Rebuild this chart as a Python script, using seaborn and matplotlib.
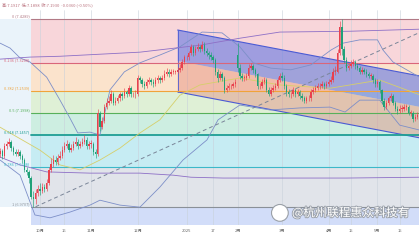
import numpy as np
import pandas as pd
import matplotlib
matplotlib.use("Agg")
import matplotlib.pyplot as plt
import matplotlib.patheffects as pe
from matplotlib.patches import Polygon, Ellipse
import seaborn as sns

# ---------------- data ----------------
O = [7.100, 7.108, 7.095, 7.120, 7.125, 7.130, 7.115, 7.105, 7.100, 7.105, 7.095, 7.085, 7.060, 7.055, 7.040, 6.995, 6.990, 7.005,
     7.015, 7.010, 7.020, 7.015, 7.030, 7.060, 7.075, 7.085, 7.080, 7.090, 7.095, 7.110, 7.120, 7.125, 7.110, 7.115, 7.125, 7.130, 7.120, 7.125, 7.130, 7.135, 7.120,
     7.125, 7.125, 7.105, 7.100, 7.200, 7.165, 7.180, 7.215, 7.225, 7.230, 7.245, 7.225, 7.230, 7.235, 7.245, 7.240, 7.250, 7.245, 7.260, 7.245, 7.245,
     7.245, 7.285, 7.280, 7.270, 7.265, 7.275, 7.280, 7.275, 7.270, 7.280, 7.285, 7.280, 7.285, 7.295, 7.300, 7.295, 7.300, 7.300, 7.300, 7.305, 7.310, 7.325,
     7.335, 7.335, 7.345, 7.360, 7.345, 7.355, 7.360, 7.355, 7.365, 7.350, 7.345, 7.340, 7.335, 7.330, 7.300, 7.285, 7.295, 7.285, 7.255, 7.260, 7.265, 7.265, 7.270,
     7.340, 7.310, 7.290, 7.285, 7.285, 7.290, 7.310, 7.315, 7.305, 7.295, 7.265, 7.265, 7.275, 7.280, 7.255, 7.245, 7.255, 7.260, 7.265, 7.280,
     7.290, 7.285, 7.265, 7.250, 7.245, 7.245, 7.255, 7.245, 7.250, 7.240, 7.235, 7.230, 7.235, 7.235, 7.250, 7.255, 7.260, 7.265, 7.265, 7.270, 7.265,
     7.270, 7.275, 7.280, 7.300, 7.300, 7.345, 7.410, 7.355, 7.330, 7.310, 7.315, 7.320, 7.325, 7.315, 7.310, 7.300, 7.305, 7.300, 7.295, 7.290, 7.290, 7.280,
     7.270, 7.275, 7.255, 7.230, 7.215, 7.225, 7.235, 7.240, 7.225, 7.210, 7.205, 7.210, 7.210, 7.215, 7.215, 7.200, 7.200, 7.185, 7.190, 7.195, 7.205, 7.195]
H = [7.115, 7.112, 7.126, 7.132, 7.138, 7.134, 7.120, 7.112, 7.113, 7.110, 7.100, 7.090, 7.068, 7.060, 7.045, 7.010, 7.015, 7.025,
     7.030, 7.028, 7.026, 7.038, 7.068, 7.090, 7.098, 7.094, 7.100, 7.108, 7.118, 7.128, 7.135, 7.130, 7.124, 7.132, 7.140, 7.136, 7.132, 7.138, 7.145, 7.140, 7.132,
     7.135, 7.130, 7.112, 7.210, 7.205, 7.190, 7.222, 7.235, 7.240, 7.255, 7.250, 7.238, 7.244, 7.252, 7.250, 7.260, 7.256, 7.268, 7.265, 7.252, 7.255,
     7.292, 7.290, 7.285, 7.278, 7.282, 7.288, 7.286, 7.282, 7.288, 7.292, 7.290, 7.292, 7.305, 7.310, 7.306, 7.308, 7.306, 7.305, 7.312, 7.318, 7.332, 7.342,
     7.340, 7.352, 7.368, 7.365, 7.362, 7.370, 7.366, 7.375, 7.372, 7.358, 7.352, 7.348, 7.342, 7.334, 7.306, 7.302, 7.300, 7.290, 7.268, 7.272, 7.270, 7.276, 7.282,
     7.370, 7.318, 7.298, 7.292, 7.298, 7.318, 7.322, 7.320, 7.310, 7.298, 7.272, 7.282, 7.288, 7.284, 7.262, 7.262, 7.268, 7.272, 7.288, 7.298,
     7.300, 7.292, 7.270, 7.258, 7.252, 7.262, 7.260, 7.258, 7.255, 7.248, 7.242, 7.242, 7.244, 7.258, 7.262, 7.268, 7.272, 7.272, 7.278, 7.276, 7.278,
     7.282, 7.290, 7.310, 7.315, 7.355, 7.425, 7.429, 7.362, 7.336, 7.322, 7.328, 7.332, 7.330, 7.322, 7.314, 7.312, 7.310, 7.306, 7.300, 7.298, 7.295, 7.285,
     7.282, 7.280, 7.258, 7.235, 7.232, 7.242, 7.248, 7.245, 7.230, 7.216, 7.218, 7.218, 7.222, 7.222, 7.220, 7.208, 7.204, 7.198, 7.202, 7.212, 7.210, 7.206]
L = [7.092, 7.088, 7.090, 7.112, 7.118, 7.108, 7.098, 7.094, 7.095, 7.088, 7.078, 7.055, 7.048, 7.030, 6.990, 6.971, 6.978, 6.998,
     7.000, 7.004, 7.008, 7.010, 7.025, 7.055, 7.068, 7.072, 7.074, 7.085, 7.090, 7.104, 7.114, 7.104, 7.105, 7.110, 7.118, 7.112, 7.114, 7.120, 7.124, 7.112, 7.113,
     7.115, 7.098, 7.090, 7.095, 7.155, 7.160, 7.175, 7.210, 7.218, 7.225, 7.218, 7.218, 7.224, 7.230, 7.232, 7.235, 7.238, 7.240, 7.238, 7.238, 7.236,
     7.242, 7.272, 7.264, 7.258, 7.260, 7.270, 7.268, 7.263, 7.266, 7.274, 7.272, 7.275, 7.280, 7.290, 7.288, 7.290, 7.294, 7.295, 7.296, 7.300, 7.305, 7.318,
     7.330, 7.328, 7.340, 7.338, 7.340, 7.350, 7.348, 7.350, 7.344, 7.338, 7.332, 7.328, 7.322, 7.292, 7.276, 7.280, 7.278, 7.248, 7.250, 7.256, 7.258, 7.260, 7.264,
     7.300, 7.282, 7.278, 7.278, 7.280, 7.286, 7.304, 7.298, 7.288, 7.258, 7.258, 7.260, 7.270, 7.250, 7.240, 7.240, 7.250, 7.255, 7.260, 7.275,
     7.278, 7.258, 7.242, 7.238, 7.236, 7.240, 7.238, 7.240, 7.234, 7.228, 7.224, 7.225, 7.228, 7.230, 7.245, 7.250, 7.255, 7.258, 7.260, 7.258, 7.260,
     7.265, 7.270, 7.275, 7.292, 7.296, 7.340, 7.340, 7.322, 7.302, 7.304, 7.310, 7.314, 7.308, 7.304, 7.294, 7.295, 7.294, 7.288, 7.284, 7.282, 7.274, 7.264,
     7.262, 7.248, 7.222, 7.208, 7.210, 7.220, 7.230, 7.218, 7.204, 7.198, 7.200, 7.202, 7.205, 7.208, 7.194, 7.192, 7.178, 7.180, 7.186, 7.190, 7.188, 7.190]
C = [7.108, 7.095, 7.120, 7.125, 7.130, 7.115, 7.105, 7.100, 7.105, 7.095, 7.085, 7.060, 7.055, 7.040, 6.995, 6.990, 7.005, 7.015,
     7.010, 7.020, 7.015, 7.030, 7.060, 7.075, 7.085, 7.080, 7.090, 7.095, 7.110, 7.120, 7.125, 7.110, 7.115, 7.125, 7.130, 7.120, 7.125, 7.130, 7.135, 7.120, 7.125,
     7.125, 7.105, 7.100, 7.200, 7.165, 7.180, 7.215, 7.225, 7.230, 7.245, 7.225, 7.230, 7.235, 7.245, 7.240, 7.250, 7.245, 7.260, 7.245, 7.245, 7.245,
     7.285, 7.280, 7.270, 7.265, 7.275, 7.280, 7.275, 7.270, 7.280, 7.285, 7.280, 7.285, 7.295, 7.300, 7.295, 7.300, 7.300, 7.300, 7.305, 7.310, 7.325, 7.335,
     7.335, 7.345, 7.360, 7.345, 7.355, 7.360, 7.355, 7.365, 7.350, 7.345, 7.340, 7.335, 7.330, 7.300, 7.285, 7.295, 7.285, 7.255, 7.260, 7.265, 7.265, 7.270, 7.275,
     7.310, 7.290, 7.285, 7.285, 7.290, 7.310, 7.315, 7.305, 7.295, 7.265, 7.265, 7.275, 7.280, 7.255, 7.245, 7.255, 7.260, 7.265, 7.280, 7.290,
     7.285, 7.265, 7.250, 7.245, 7.245, 7.255, 7.245, 7.250, 7.240, 7.235, 7.230, 7.235, 7.235, 7.250, 7.255, 7.260, 7.265, 7.265, 7.270, 7.265, 7.270,
     7.275, 7.280, 7.300, 7.300, 7.345, 7.410, 7.355, 7.330, 7.310, 7.315, 7.320, 7.325, 7.315, 7.310, 7.300, 7.305, 7.300, 7.295, 7.290, 7.290, 7.280, 7.270,
     7.275, 7.255, 7.230, 7.215, 7.225, 7.235, 7.240, 7.225, 7.210, 7.205, 7.210, 7.210, 7.215, 7.215, 7.200, 7.200, 7.185, 7.190, 7.195, 7.205, 7.195, 7.200]
first_date = "2024-09-05"

# Fibonacci retracement
fib_ratios = [0, 0.236, 0.382, 0.5, 0.618, 0.786, 1]
fib_high, fib_low = 7.4289, 6.9707
fib_start = "2024-09-25"
fib_line_colors = ["#b27a86", "#d9667a", "#f0a33a", "#57b05a", "#1e9e94", "#3cb8c9", "#8a9098"]
fib_zone_colors = ["#f8d6da", "#fbe3cc", "#dff0d6", "#cdeee1", "#c6ecf3", "#e1e4ea", "#d2ddf9"]

# regression channel (dates, top, bottom)
chan_dates = ["2024-12-26", "2025-05-30"]
chan_top = [7.402, 7.288]
chan_bot = [7.251, 7.137]

# dashed trend line
trend_dates = ["2024-09-27", "2025-05-30"]
trend_vals = [6.971, 7.401]

# indicator lines (bar number, price)
bb_up_bar = [0, 4.5, 9, 13.5, 21, 27, 31.5, 35, 40.5, 45, 47.5, 49.5, 56, 63, 72, 81, 91, 100, 108, 114, 122, 131, 140, 149, 154.5, 162, 170, 172.5, 177, 189]
bb_up = [7.370, 7.358, 7.334, 7.324, 7.287, 7.231, 7.187, 7.151, 7.153, 7.146, 7.207, 7.256, 7.300, 7.322, 7.341, 7.361, 7.397, 7.395, 7.361, 7.322, 7.309, 7.305, 7.317, 7.353, 7.370, 7.378, 7.378, 7.353, 7.324, 7.287]
bb_lo_bar = [0, 9, 15.7, 22.5, 31.5, 40.5, 45, 54, 63, 72, 82.4, 93.2, 98.2, 108, 121.6, 135, 148.6, 155.4, 162, 171, 180, 189]
bb_lo = [7.085, 7.048, 6.951, 6.944, 6.958, 6.975, 6.987, 6.975, 6.970, 7.019, 7.085, 7.134, 7.183, 7.219, 7.207, 7.212, 7.214, 7.202, 7.231, 7.231, 7.170, 7.158]
env_up_bar = [0, 13.5, 27, 45, 63, 90, 108, 126, 157.5, 189]
env_up = [7.331, 7.336, 7.338, 7.343, 7.348, 7.365, 7.382, 7.397, 7.399, 7.404]
env_lo_bar = [0, 9, 21, 40.5, 63, 78, 86, 100.5, 126, 156, 189]
env_lo = [7.092, 7.073, 7.056, 7.053, 7.053, 7.048, 7.043, 7.041, 7.041, 7.041, 7.043]
ma_bar = [0, 18, 27, 36, 45, 54, 63, 72, 81, 90, 108, 126, 148.6, 171, 189]
ma = [7.165, 7.109, 7.073, 7.061, 7.085, 7.114, 7.151, 7.183, 7.243, 7.268, 7.285, 7.268, 7.260, 7.280, 7.244]

tick_dates = ["2024-10-01", "2024-10-16", "2024-11-01", "2024-12-02", "2025-01-01", "2025-01-17",
              "2025-02-03", "2025-03-03", "2025-04-01", "2025-04-15", "2025-05-01", "2025-05-15"]
tick_labels = ["10月", "16", "11月", "12月", "2025", "17", "2月", "3月", "4月", "15", "5月", "15"]

header = "高:7.1917  低:7.1898  收:7.1930  -0.0360 (-0.50%)"
watermark = "@杭州联程惠众科技有"

# ---------------- drawing ----------------
sns.set_theme(style="white")
plt.rcParams["font.family"] = ["Noto Sans CJK SC", "DejaVu Sans"]

dates = pd.bdate_range(first_date, periods=len(C))
def pos(d):
    return int(dates.get_indexer(pd.to_datetime([d]), method="nearest")[0])

xs = np.arange(len(C))
fig = plt.figure(figsize=(4.19, 2.40), dpi=100)
ax = fig.add_axes([0, 0.0625, 1, 0.8958])
xmin, xmax = -0.02, 188.7
ymin, ymax = 6.9265, 7.4508
ax.set_xlim(xmin, xmax)
ax.set_ylim(ymin, ymax)

levels = [fib_high - r * (fib_high - fib_low) for r in fib_ratios]
fs = pos(fib_start) - 0.05
xr = [fs, xmax + 5]
# left strip
ax.fill_between([xmin - 1, fs], levels[-1], levels[0], color="#eaf3fa", lw=0, zorder=0)
bounds = levels + [ymin - 1]
for i in range(len(levels)):
    ax.fill_between(xr, bounds[i + 1], bounds[i], color=fib_zone_colors[i], lw=0, zorder=0)

# vertical grid
tpos = [pos(d) for d in tick_dates]
for t in tpos:
    ax.axvline(t, color="#c9d1da", lw=0.4, zorder=0.5)

# channel
c0, c1 = pos(chan_dates[0]), pos(chan_dates[1])
mid = [(a + b) / 2 for a, b in zip(chan_top, chan_bot)]
ax.add_patch(Polygon([[c0, chan_top[0]], [c1, chan_top[1]], [c1, mid[1]], [c0, mid[0]]],
                     closed=True, fc="#6478e4", alpha=0.6, lw=0, zorder=1))
ax.add_patch(Polygon([[c0, mid[0]], [c1, mid[1]], [c1, chan_bot[1]], [c0, chan_bot[0]]],
                     closed=True, fc="#e4857a", alpha=0.42, lw=0, zorder=1))
ax.plot([c0, c1], chan_top, color="#4b5bd4", lw=0.8, zorder=2)
ax.plot([c0, c1], chan_bot, color="#4b5bd4", lw=0.8, zorder=2)
ax.plot([c0, c0], [chan_bot[0], chan_top[0]], color="#4b5bd4", lw=0.6, zorder=2)

# fib lines + labels
for i, (lv, r) in enumerate(zip(levels, fib_ratios)):
    ax.plot(xr, [lv, lv], color=fib_line_colors[i], lw=1.3 if r == 0.618 else 0.8, zorder=2)
    ax.text(fs - 0.6, lv + 0.002, f"{r:g} ({lv:.4f})", color=fib_line_colors[i], fontsize=2.8,
            ha="right", va="bottom", zorder=5)

# indicator lines
sns.lineplot(x=bb_up_bar, y=bb_up, ax=ax, color="#7d8fc8", lw=0.6, zorder=2.5)
sns.lineplot(x=bb_lo_bar, y=bb_lo, ax=ax, color="#7d8fc8", lw=0.6, zorder=2.5)
sns.lineplot(x=env_up_bar, y=env_up, ax=ax, color="#8d6fc6", lw=0.6, zorder=2.5)
sns.lineplot(x=env_lo_bar, y=env_lo, ax=ax, color="#8d6fc6", lw=0.6, zorder=2.5)
sns.lineplot(x=ma_bar, y=ma, ax=ax, color="#d6cf6a", lw=0.6, zorder=2.5)

# dashed trend
t0, t1 = pos(trend_dates[0]), pos(trend_dates[1])
ax.plot([t0, t1], trend_vals, color="#7a8598", lw=0.7, ls=(0, (4, 3)), zorder=2.6)

# candles
O_, H_, L_, C_ = map(np.array, (O, H, L, C))
up = C_ >= O_
cols = np.where(up, "#e8414e", "#20a178")
ax.vlines(xs, L_, H_, colors=cols, lw=0.45, zorder=3)
body = np.maximum(np.abs(C_ - O_), 0.0015)
ax.bar(xs, body, bottom=np.minimum(O_, C_), width=0.62, color=cols, lw=0, zorder=3.1)

# axes cosmetics
ax.set_xticks(tpos)
ax.set_xticklabels(tick_labels, fontsize=3, color="#666666")
ax.tick_params(axis="x", length=0, pad=3)
ax.set_yticks([])
for s in ax.spines.values():
    s.set_visible(False)

fig.text(0.004, 0.978, header, fontsize=3, color="#b9707c", ha="left", va="center")
fig.add_artist(Ellipse((0.668, 0.113), 0.04, 0.07, transform=fig.transFigure,
                       fc="white", ec="#9aa0a8", lw=0.8, zorder=10))
fig.text(0.697, 0.113, watermark, fontsize=8.5, color="white", ha="left", va="center", zorder=11,
         path_effects=[pe.withStroke(linewidth=1.3, foreground="#9ba1aa")])

fig.savefig("out.png", dpi=100)
